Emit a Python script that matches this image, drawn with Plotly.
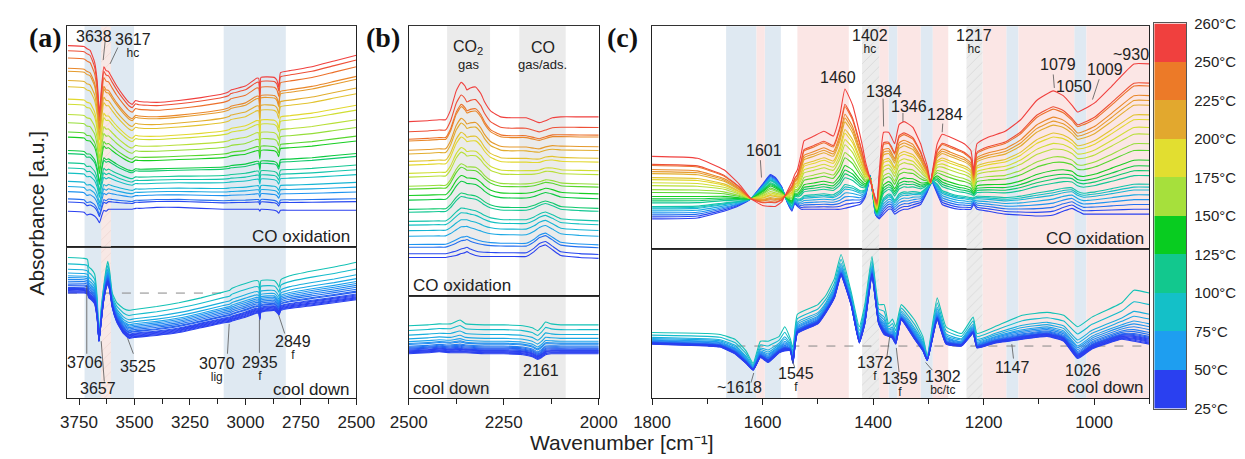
import numpy as np
import plotly.graph_objects as go

W, H = 1245, 459
FONT = "Liberation Sans, Arial, sans-serif"
TXT = "#222222"

# ---------------------------------------------------------------- data
# temperatures of the heating spectra (CO oxidation) and cool-down spectra
temps_heat = [30, 40, 50, 60, 70, 80, 90, 100, 110, 120, 130, 140,
              150, 160, 170, 180, 190, 200, 210, 220, 230, 240, 250, 260]
temps_cool = [95, 85, 75, 70, 65, 60, 57, 54, 51, 48, 45, 42, 39, 36, 33, 30, 28, 25]

# colour bar
cbar_labels = ["25°C", "50°C", "75°C", "100°C", "125°C", "150°C", "175°C",
               "200°C", "225°C", "250°C", "260°C"]
cbar_edges = [25, 50, 75, 100, 125, 150, 175, 200, 225, 250, 260]
cbar_colors = ["#2a40f0", "#1e9ef0", "#14c0c8", "#12c88e", "#08cc20",
               "#a6e03c", "#e2de30", "#e2a82e", "#ec7a28", "#f0403e"]

# ---- panel (a) 3800-2500 cm-1
wn_a_top = [3800, 3727, 3715, 3700, 3680, 3668, 3658, 3648, 3638, 3628, 3617, 3600, 3580,
            3550, 3525, 3510, 3495, 3480, 3400, 3300, 3200, 3100, 3075, 3065, 3000, 2950,
            2940, 2935, 2930, 2870, 2858, 2850, 2842, 2800, 2700, 2600, 2500]
a_top_hot = [209, 208, 206, 204, 192, 172, 139, 167, 187, 183, 182, 175, 167, 157, 150, 148,
             152, 151, 150, 152, 155, 159, 161, 163, 167, 175, 175, 159, 176, 176, 173, 166,
             181, 183, 187, 193, 199]
a_top_cold = [37, 36, 33, 34, 32, 29, 25, 32, 38, 37, 39, 39, 39, 39, 39, 39, 40, 40, 41, 41,
              40, 39, 39, 39, 39, 39, 39, 37, 39, 38, 37, 35, 38, 38, 38, 38, 38]
a_top_levels = [38, 47, 50, 57, 62, 67, 75, 80, 85, 94, 97, 110, 115, 124, 132, 142, 147,
                159, 165, 174, 177, 187, 194, 199]   # at 2500 cm-1

wn_a_bot = [3800, 3727, 3712, 3706, 3695, 3680, 3668, 3660, 3650, 3640, 3628, 3620, 3612,
            3600, 3580, 3550, 3525, 3500, 3400, 3300, 3200, 3100, 3070, 3060, 3000, 2950,
            2940, 2935, 2930, 2870, 2855, 2849, 2840, 2800, 2700, 2600, 2500]
a_bot_warm = [146, 145, 144, 136, 134, 129, 104, 61, 94, 114, 134, 142, 132, 109, 99, 93, 91,
              92, 95, 99, 104, 110, 112, 114, 119, 122, 121, 112, 122, 122, 118, 115, 123,
              127, 132, 136, 141]
a_bot_cold = [109, 109, 108, 104, 102, 98, 82, 59, 79, 99, 114, 119, 112, 94, 79, 67, 62, 63,
              65, 68, 73, 78, 79, 80, 84, 88, 88, 81, 89, 91, 88, 86, 91, 93, 96, 99, 102]
a_bot_levels = [141, 134, 128, 124, 121, 119, 117, 115, 113, 111, 110, 108, 107, 106, 105,
                104, 103, 102]   # at 2500 cm-1
a_dash_level = 109
a_dash_wn = [3800, 3070]

# ---- panel (b) 2500-2000 cm-1
wn_b_top = [2500, 2450, 2420, 2403, 2390, 2375, 2362, 2352, 2347, 2338, 2324, 2310, 2301,
            2284, 2258, 2230, 2191, 2170, 2156, 2140, 2122, 2100, 2050, 2000]
b_top_hot = [181, 182, 183, 183, 193, 213, 222, 218, 214, 216, 217, 210, 202, 192, 186, 185,
             185, 182, 180, 182, 185, 186, 186, 186]
b_top_cold = [40, 40, 40, 40, 41, 42, 44, 45, 46, 44, 42, 41, 41, 41, 41, 41, 41, 46, 51, 53,
              48, 42, 40, 39]
b_top_levels = [39, 43, 50, 53, 62, 68, 74, 78, 88, 91, 101, 106, 113, 116, 126, 130, 139,
                143, 151, 155, 165, 167, 175, 186]   # at 2000 cm-1

wn_b_bot = [2500, 2450, 2420, 2390, 2365, 2350, 2300, 2250, 2200, 2175, 2161, 2150, 2140,
            2125, 2100, 2050, 2000]
b_bot_warm = [75, 76, 77, 77, 81, 77, 76, 76, 75, 73, 70, 74, 79, 77, 76, 76, 76]
b_bot_cold = [46, 47, 48, 47, 47, 47, 46, 46, 45, 43, 40, 42, 45, 46, 46, 46, 46]
b_bot_levels = [76, 71, 66, 62, 59, 57, 56, 54, 53, 52, 51, 50, 49, 49, 48, 47, 47, 46]

# ---- panel (c) 1800-900 cm-1
wn_c_top = [1800, 1718, 1670, 1642, 1621, 1600, 1586, 1577, 1565, 1556, 1547, 1542, 1537,
            1530, 1525, 1507, 1489, 1472, 1460, 1451, 1437, 1424, 1419, 1414, 1407, 1405,
            1396, 1393, 1389, 1381, 1372, 1367, 1361, 1353, 1344, 1337, 1328, 1314, 1309,
            1302, 1296, 1293, 1284, 1275, 1261, 1245, 1235, 1223, 1218, 1212, 1191, 1161,
            1133, 1104, 1074, 1056, 1040, 1030, 1019, 1012, 998, 968, 928, 900]
c_top_hot = [96, 94, 82, 67, 52, 45, 44, 44, 49, 59, 69, 77, 82, 99, 112, 117, 122, 117, 139,
             166, 149, 119, 106, 91, 76, 71, 53, 49, 79, 121, 121, 116, 109, 129, 132, 130,
             126, 109, 99, 86, 69, 79, 109, 119, 116, 112, 109, 102, 81, 109, 116, 122, 134,
             154, 164, 159, 149, 142, 145, 147, 152, 169, 192, 192]
c_top_cold = [31, 32, 39, 45, 52, 67, 77, 74, 64, 49, 39, 47, 44, 41, 41, 41, 41, 41, 41, 42,
              44, 46, 49, 54, 71, 76, 36, 33, 31, 36, 41, 41, 36, 39, 41, 41, 43, 46, 51, 59,
              67, 69, 57, 46, 43, 41, 41, 41, 46, 41, 39, 36, 35, 34, 35, 39, 42, 39, 36, 36,
              36, 36, 36, 36]
c_top_levels = [36, 41, 46, 51, 56, 61, 64, 67, 76, 81, 86, 92, 102, 109, 119, 126, 134, 139,
                149, 154, 159, 169, 172, 192]   # at 900 cm-1

wn_c_bot = [1800, 1700, 1677, 1650, 1630, 1617, 1604, 1590, 1570, 1560, 1550, 1545, 1537,
            1500, 1485, 1470, 1458, 1440, 1425, 1415, 1402, 1390, 1380, 1372, 1365, 1359,
            1349, 1325, 1310, 1302, 1284, 1268, 1240, 1219, 1212, 1180, 1130, 1085, 1055,
            1030, 1004, 950, 928, 900]
c_bot_warm = [68, 67, 66, 61, 49, 36, 59, 59, 64, 74, 62, 52, 87, 97, 107, 124, 149, 111, 74,
              97, 147, 97, 97, 77, 82, 74, 97, 81, 64, 44, 104, 74, 67, 84, 67, 74, 86, 89,
              86, 74, 84, 99, 112, 109]
c_bot_cold = [56, 54, 53, 46, 36, 29, 42, 37, 47, 49, 49, 36, 67, 77, 89, 104, 127, 97, 57,
              77, 127, 77, 66, 64, 62, 56, 81, 61, 49, 39, 81, 56, 54, 67, 52, 57, 61, 64, 59,
              41, 51, 61, 59, 56]
c_bot_levels = [109, 97, 87, 82, 77, 74, 71, 68, 66, 64, 63, 62, 61, 60, 59, 58, 57, 56]
c_dash_level = 54
c_dash_wn = [1680, 900]

# shaded regions (cm-1)
a_blue = [(3725, 3502), (3098, 2818)]
a_hatch = [(3650, 3606)]
b_gray = [(2399, 2286), (2209, 2087)]
c_blue = [(1666, 1611), (1596, 1567), (1372, 1356), (1314, 1292), (1159, 1137), (1036, 1014)]
c_pink = [(1611, 1596), (1537, 1444), (1389, 1372), (1356, 1314), (1292, 1264),
          (1202, 1159), (1137, 1036), (1014, 900)]
c_hatch = [(1420, 1389), (1231, 1202)]

# ---------------------------------------------------------------- geometry (px)
PANELS = {
    "a": dict(x0=50, x1=348, rng=[3802, 2500], dtick=250, mdtick=125, top=18, mid=247, bot=404),
    "b": dict(x0=402, x1=598, rng=[2500, 2000], dtick=250, mdtick=125, top=18, mid=298, bot=404),
    "c": dict(x0=653, x1=1166, rng=[1800, 900], dtick=200, mdtick=100, top=18, mid=249, bot=404),
}
AX = {"a": ("", "2"), "b": ("3", "4"), "c": ("5", "6")}


def xd(p0, p1):
    return [p0 / W, p1 / W]


def yd(p0, p1):
    return [1 - p1 / H, 1 - p0 / H]


def hex2rgb(h):
    h = h.lstrip("#")
    return [int(h[i:i + 2], 16) for i in (0, 2, 4)]


centers = [(cbar_edges[i] + cbar_edges[i + 1]) / 2 for i in range(10)]
rgbs = np.array([hex2rgb(c) for c in cbar_colors], dtype=float)


def tcolor(t):
    r, g, b = (np.interp(t, centers, rgbs[:, k]) for k in range(3))
    return f"rgb({int(r)},{int(g)},{int(b)})"


def family(cold, hot, levels):
    cold = np.asarray(cold, float)
    hot = np.asarray(hot, float)
    out = []
    for L in levels:
        f = (L - cold[-1]) / (hot[-1] - cold[-1])
        out.append(cold + f * (hot - cold))
    return out


fig = go.Figure()
layout = dict(width=W, height=H, margin=dict(l=0, r=0, t=0, b=0),
              paper_bgcolor="white", plot_bgcolor="white", showlegend=False,
              font=dict(family=FONT, color=TXT))
shapes, annos = [], []

for key, P in PANELS.items():
    sb, st = AX[key]
    # bottom (cool down) subplot
    layout["xaxis" + sb] = dict(
        domain=xd(P["x0"], P["x1"]), range=P["rng"], anchor="y" + sb,
        showline=True, linecolor="#222", linewidth=1.2, mirror=True,
        showgrid=False, zeroline=False, ticks="outside", ticklen=6, tickwidth=1.2,
        tickcolor="#222", tick0=2000, dtick=P["dtick"], ticklabelstandoff=2,
        tickfont=dict(size=17, family=FONT, color=TXT),
        minor=dict(ticks="outside", ticklen=5, tickwidth=1.2, tickcolor="#222",
                   dtick=P["mdtick"], tick0=2000, showgrid=False))
    layout["yaxis" + sb] = dict(
        domain=yd(P["mid"], P["bot"]), range=[0, P["bot"] - P["mid"]], anchor="x" + sb,
        showline=True, linecolor="#222", linewidth=1.2, mirror=True,
        showgrid=False, zeroline=False, ticks="", showticklabels=False)
    # top (CO oxidation) subplot
    layout["xaxis" + st] = dict(
        domain=xd(P["x0"], P["x1"]), range=P["rng"], anchor="y" + st,
        showline=True, linecolor="#333", linewidth=1.2, mirror=True,
        showgrid=False, zeroline=False, ticks="", showticklabels=False)
    layout["yaxis" + st] = dict(
        domain=yd(P["top"], P["mid"]), range=[0, P["mid"] - P["top"]], anchor="x" + st,
        showline=True, linecolor="#222", linewidth=1.2, mirror=True,
        showgrid=False, zeroline=False, ticks="", showticklabels=False)


def band_shapes(key, bands, color):
    sb, st = AX[key]
    P = PANELS[key]
    for w0, w1 in bands:
        shapes.append(dict(type="rect", xref="x" + sb, yref="paper", x0=w0, x1=w1,
                           y0=1 - P["bot"] / H, y1=1 - P["top"] / H, fillcolor=color,
                           line=dict(width=0), layer="below"))


band_shapes("a", a_blue, "#dfe9f2")
band_shapes("b", b_gray, "#ebebeb")
band_shapes("c", c_blue, "#dfe9f2")
band_shapes("c", c_pink, "#fbe6e5")


def hatch_traces(key, bands, fg, bg):
    sb, st = AX[key]
    P = PANELS[key]
    for ax, h in ((sb, P["bot"] - P["mid"]), (st, P["mid"] - P["top"])):
        for w0, w1 in bands:
            fig.add_trace(go.Scatter(
                x=[w0, w1, w1, w0, w0], y=[0, 0, h, h, 0], mode="lines", fill="toself",
                fillcolor=bg, line=dict(width=0),
                fillpattern=dict(shape="/", fgcolor=fg, bgcolor=bg, size=7, solidity=0.12),
                xaxis="x" + ax, yaxis="y" + ax, hoverinfo="skip"))


hatch_traces("a", a_hatch, "#e4c6c0", "#f8e8e5")
hatch_traces("c", c_hatch, "#c4c4c4", "#ececec")

# dashed reference lines in cool-down panels
fig.add_trace(go.Scatter(x=a_dash_wn, y=[a_dash_level] * 2, mode="lines",
                         line=dict(color="#888", width=1, dash="dash"),
                         xaxis="x", yaxis="y", hoverinfo="skip"))
fig.add_trace(go.Scatter(x=c_dash_wn, y=[c_dash_level] * 2, mode="lines",
                         line=dict(color="#888", width=1, dash="dash"),
                         xaxis="x5", yaxis="y5", hoverinfo="skip"))


def add_family(wn, spectra, temps, ax):
    for spec, t in zip(spectra, temps):
        fig.add_trace(go.Scatter(x=wn, y=spec, mode="lines",
                                 line=dict(color=tcolor(t), width=1.1, shape="spline",
                                           smoothing=0.4),
                                 xaxis="x" + ax, yaxis="y" + ax, hoverinfo="skip"))


add_family(wn_a_top, family(a_top_cold, a_top_hot, a_top_levels), temps_heat, "2")
add_family(wn_b_top, family(b_top_cold, b_top_hot, b_top_levels), temps_heat, "4")
add_family(wn_c_top, family(c_top_cold, c_top_hot, c_top_levels), temps_heat, "6")
add_family(wn_a_bot, family(a_bot_cold, a_bot_warm, a_bot_levels), temps_cool, "")
add_family(wn_b_bot, family(b_bot_cold, b_bot_warm, b_bot_levels), temps_cool, "3")
add_family(wn_c_bot, family(c_bot_cold, c_bot_warm, c_bot_levels), temps_cool, "5")

# colour bar
layout["xaxis7"] = dict(domain=xd(1171, 1204), range=[-0.5, 0.5], anchor="y7",
                        showline=True, linecolor="#555", mirror=True, ticks="",
                        showticklabels=False, showgrid=False, zeroline=False)
layout["yaxis7"] = dict(domain=yd(15, 415), range=[0, 10], anchor="x7", side="right",
                        showline=True, linecolor="#555", mirror=True, ticks="",
                        tickvals=list(range(11)), ticktext=cbar_labels,
                        tickfont=dict(size=15, family=FONT, color=TXT),
                        ticklabelstandoff=4, showgrid=False, zeroline=False)
cscale = []
for i, c in enumerate(cbar_colors):
    cscale += [[i / 10, c], [(i + 1) / 10, c]]
fig.add_trace(go.Heatmap(z=[[i] for i in range(10)], x=[0], y=[i + 0.5 for i in range(10)],
                         colorscale=cscale, zmin=-0.5, zmax=9.5, showscale=False,
                         xaxis="x7", yaxis="y7", hoverinfo="skip"))

# ---------------------------------------------------------------- labels
def note(text, x, y, ax, size=16, xanchor="center"):
    annos.append(dict(text=text, x=x, y=y, xref="x" + ax, yref="y" + ax, showarrow=False,
                      xanchor=xanchor, yanchor="middle",
                      font=dict(size=size, family=FONT, color=TXT)))


def note2(num, sub, x, y, ax):
    """band position with a small assignment label underneath (one text block)"""
    text = (f"<span style='font-size:16px'>{num}</span><br>"
            f"<span style='font-size:12px'>{sub}</span>")
    annos.append(dict(text=text, x=x, y=y, xref="x" + ax, yref="y" + ax, showarrow=False,
                      xanchor="center", yanchor="middle", align="center",
                      font=dict(size=9, family=FONT, color=TXT)))


def lead(x0, y0, x1, y1, ax):
    shapes.append(dict(type="line", xref="x" + ax, yref="y" + ax, x0=x0, y0=y0, x1=x1, y1=y1,
                       line=dict(color="#555", width=0.8)))


# (a)
note("3638", 3684, 218, "2"); lead(3632, 214, 3641, 194, "2")
note2("3617", "hc", 3505, 209, "2"); lead(3575, 207, 3610, 190, "2")
note("CO oxidation", 2520, 11, "2", 17, "right")
note("cool down", 2520, 9, "", 17, "right")
note("3706", 3724, 37, ""); lead(3715, 117, 3715, 46, "")
note("3657", 3663, 10, ""); lead(3650, 59, 3636, 17, "")
note("3525", 3483, 33, ""); lead(3531, 62, 3505, 46, "")
note2("3070", "lig", 3129, 30, ""); lead(3073, 77, 3081, 46, "")
note2("2935", "f", 2933, 31, ""); lead(2937, 81, 2937, 47, "")
note2("2849", "f", 2784, 52, ""); lead(2850, 86, 2823, 67, "")
# (b)
note("CO<sub>2</sub>", 2344, 258, "4"); note("gas", 2344, 240, "4", 13)
note("CO", 2148, 258, "4"); note("gas/ads.", 2148, 240, "4", 13)
note("CO oxidation", 2494, 11, "4", 17, "left")
note("cool down", 2494, 10, "3", 17, "left")
note("2161", 2153, 29, "3")
# (c)
note("1601", 1598, 102, "6"); lead(1604, 92, 1602, 74, "6")
note("1460", 1463, 178, "6")
note2("1402", "hc", 1405, 215, "6")
note("1384", 1381, 163, "6"); lead(1382, 156, 1381, 127, "6")
note("1346", 1335, 148, "6"); lead(1346, 141, 1346, 132, "6")
note("1284", 1270, 139, "6"); lead(1274, 130, 1275, 121, "6")
note2("1217", "hc", 1218, 215, "6")
note("1079", 1065, 191, "6"); lead(1074, 181, 1072, 167, "6")
note("1050", 1037, 169, "6")
note("1009", 981, 186, "6"); lead(991, 176, 1003, 155, "6")
note("~930", 933, 202, "6")
note("CO oxidation", 906, 11, "6", 17, "right")
note("~1618", 1642, 11, "5"); lead(1616, 26, 1621, 16, "5")
note2("1545", "f", 1539, 19, "5"); lead(1546, 39, 1542, 32, "5")
note2("1372", "f", 1397, 31, "5"); lead(1370, 64, 1375, 43, "5")
note2("1359", "f", 1351, 14, "5"); lead(1358, 52, 1353, 27, "5")
note2("1302", "bc/tc", 1274, 16, "5"); lead(1305, 37, 1293, 29, "5")
note("1147", 1147, 32, "5"); lead(1149, 56, 1146, 41, "5")
note("1026", 1021, 29, "5")
note("cool down", 906, 11, "5", 17, "right")

# panel letters and axis titles (paper coordinates)
for lab, px in (("(a)", 27), ("(b)", 375), ("(c)", 623)):
    annos.append(dict(text=f"<b>{lab}</b>", x=px / W, y=1 - 30 / H, xref="paper", yref="paper",
                      showarrow=False, xanchor="center", yanchor="middle",
                      font=dict(size=28, family="Liberation Serif, Times New Roman, serif",
                                color="#111")))
annos.append(dict(text="Wavenumber [cm⁻¹]", x=622 / W, y=1 - 450 / H,
                  xref="paper", yref="paper", showarrow=False, xanchor="center",
                  yanchor="middle", font=dict(size=21, family=FONT, color=TXT)))
annos.append(dict(text="Absorbance [a.u.]", x=18 / W, y=1 - 212 / H, xref="paper",
                  yref="paper", showarrow=False, xanchor="center", yanchor="middle",
                  textangle=-90, font=dict(size=21, family=FONT, color=TXT)))

layout["shapes"] = shapes
layout["annotations"] = annos
fig.update_layout(**layout)
fig.write_html("out.html")
